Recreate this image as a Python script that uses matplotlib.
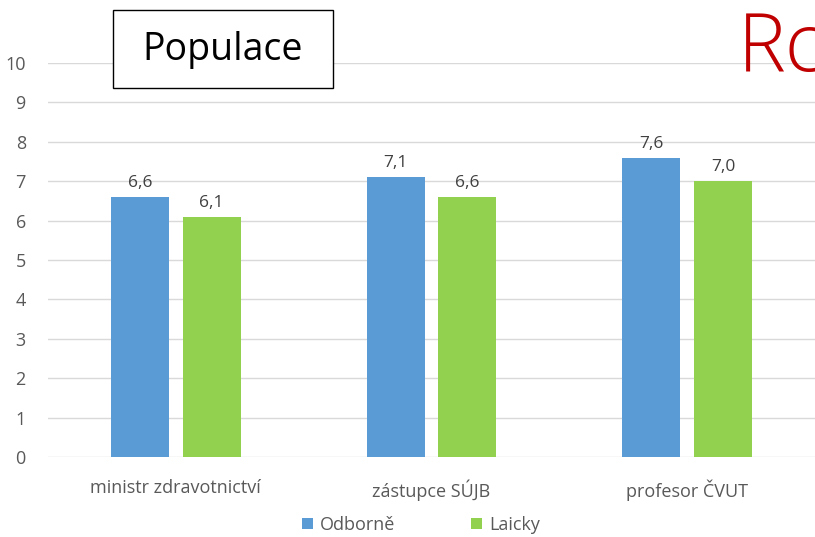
import matplotlib
matplotlib.use("Agg")
import matplotlib.pyplot as plt
import numpy as np
from matplotlib.patches import Rectangle

categories = ["ministr zdravotnictví", "zástupce SÚJB", "profesor ČVUT"]
odborne = [6.6, 7.1, 7.6]
laicky = [6.1, 6.6, 7.0]
series_names = ["Odborně", "Laicky"]
yticks = list(range(0, 11))

plt.rcParams['font.family'] = ['Open Sans', 'DejaVu Sans']

fig = plt.figure(figsize=(8.15, 5.37), dpi=100)
ax = fig.add_axes([48/815, 1-457/537, 1-48/815, (457-63)/537])

x = np.arange(len(categories))
w = 0.227
off = 0.14
b1 = ax.bar(x - off, odborne, w, color="#5B9BD5", label=series_names[0], zorder=3)
b2 = ax.bar(x + off, laicky, w, color="#92D050", label=series_names[1], zorder=3)
for bars, vals in ((b1, odborne), (b2, laicky)):
    for r, v in zip(bars, vals):
        ax.text(r.get_x() + r.get_width()/2, v + 0.15, f"{v:.1f}".replace(".", ","),
                ha="center", va="bottom", fontsize=12.5, color="#404040")

ax.set_xlim(-0.5, 2.5)
ax.set_ylim(0, 10)
ax.set_yticks(yticks)
ax.set_xticks(x)
ax.set_xticklabels(categories)
ax.tick_params(axis="both", length=0, labelsize=13, labelcolor="#595959")
ax.tick_params(axis="x", pad=16)
ax.tick_params(axis="y", pad=16)
ax.grid(axis="y", color="#D9D9D9", linewidth=1, zorder=0)
for s in ax.spines.values():
    s.set_visible(False)

leg = fig.legend(handles=[b1, b2], labels=series_names, loc="center", bbox_to_anchor=(421/815, 1-525/537),
                 ncol=2, frameon=False, fontsize=13, handlelength=0.6, handleheight=0.6,
                 columnspacing=4.2, handletextpad=0.4)
for t in leg.get_texts():
    t.set_color("#595959")

fig.patches.append(Rectangle((113/815, 1-88/537), 220/815, 78/537, transform=fig.transFigure,
                             facecolor="white", edgecolor="black", linewidth=1, zorder=5))
fig.text(223/815, 1-50/537, "Populace", ha="center", va="center", fontsize=27, color="black", zorder=6)
fig.text(738/815, 1-50/537, "Rc", ha="left", va="center", fontsize=58, color="#C00000",
         fontweight="light")

fig.savefig("out.png", dpi=100)
